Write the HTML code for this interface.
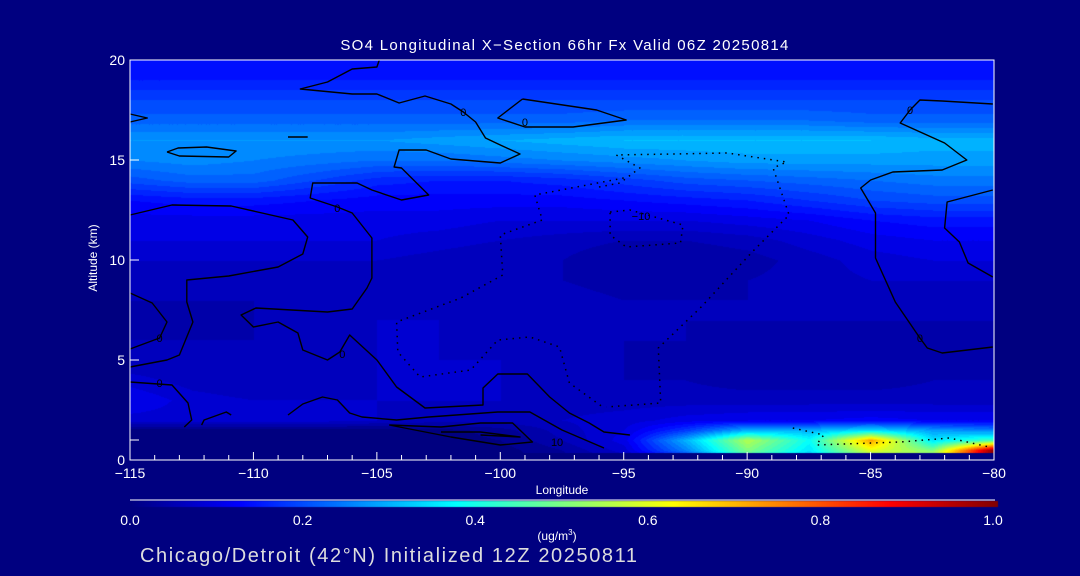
<!DOCTYPE html>
<html><head><meta charset="utf-8"><style>
html,body{margin:0;padding:0;background:#000080;}
#wrap{position:relative;width:1080px;height:576px;background:#000080;overflow:hidden;font-family:"Liberation Sans",sans-serif;color:#fff;}
canvas{position:absolute;left:0;top:0;}
svg{position:absolute;left:0;top:0;}
</style></head><body>
<div id="wrap">
<canvas id="cv" width="1080" height="576"></canvas>
<svg id="sv" width="1080" height="576"></svg>
</div>
<script>
// ---- data ----
const lons = [-115,-112.5,-110,-107.5,-105,-102.5,-100,-97.5,-95,-92.5,-90,-87.5,-85,-82.5,-80];
const alts = [0,0.5,1,1.5,2,3,4,5,6,7,8,9,10,11,12,13,14,15,16,17,18,19,20];
const field = [
[.00,.00,.00,.00,.00,.00,.00,.02,.05,.12,.40,.30,.45,.60,1.0],
[.00,.00,.00,.00,.00,.00,.00,.03,.08,.25,.50,.35,.60,.50,1.0],
[.00,.00,.00,.00,.00,.00,.01,.05,.10,.30,.55,.38,.72,.35,.45],
[.00,.00,.00,.00,.00,.00,.02,.06,.09,.18,.30,.30,.35,.28,.25],
[.08,.08,.08,.08,.07,.06,.06,.07,.08,.10,.11,.11,.12,.11,.11],
[.11,.08,.07,.07,.07,.07,.07,.06,.06,.06,.06,.06,.06,.06,.06],
[.08,.06,.05,.06,.07,.07,.07,.06,.05,.05,.04,.04,.04,.05,.05],
[.05,.05,.05,.06,.07,.07,.07,.06,.05,.04,.03,.03,.04,.04,.04],
[.05,.05,.05,.06,.07,.07,.06,.06,.05,.05,.04,.04,.04,.04,.04],
[.04,.04,.05,.06,.07,.07,.06,.06,.05,.05,.05,.05,.05,.05,.05],
[.05,.05,.05,.05,.06,.06,.06,.06,.05,.05,.05,.05,.05,.05,.05],
[.06,.06,.06,.06,.06,.06,.05,.05,.04,.04,.05,.06,.07,.07,.07],
[.07,.07,.07,.07,.07,.06,.05,.05,.03,.03,.04,.06,.08,.09,.09],
[.09,.09,.09,.09,.09,.08,.07,.06,.05,.05,.06,.08,.10,.11,.11],
[.10,.10,.10,.10,.10,.10,.09,.09,.09,.09,.10,.11,.13,.14,.14],
[.13,.14,.14,.13,.12,.12,.12,.12,.13,.14,.15,.17,.19,.20,.20],
[.20,.22,.22,.19,.16,.15,.15,.16,.18,.20,.21,.22,.23,.24,.24],
[.25,.26,.25,.24,.23,.23,.24,.25,.26,.27,.28,.28,.28,.28,.28],
[.27,.27,.27,.27,.27,.28,.29,.30,.31,.31,.31,.31,.31,.30,.30],
[.22,.22,.22,.22,.22,.22,.22,.22,.23,.23,.23,.23,.22,.22,.22],
[.19,.19,.19,.19,.19,.19,.19,.19,.19,.19,.19,.19,.19,.19,.19],
[.15,.15,.15,.15,.15,.15,.15,.15,.15,.15,.15,.15,.15,.15,.15],
[.13,.13,.13,.13,.13,.13,.13,.13,.13,.13,.13,.13,.13,.13,.13]];
const xTicks = [-115,-110,-105,-100,-95,-90,-85,-80];
const yTicks = [0,5,10,15,20];
const cbTicks = [0.0,0.2,0.4,0.6,0.8,1.0];
// contours: [lon, alt] pairs
const contourG = [[-104.9,20],[-105,19.65],[-106,19.55],[-107,18.9],[-108.1,18.55],[-106,18.3],[-105,18.3],[-104.1,17.85],[-103.05,18.2],[-102,17.8],[-101.5,17.4],[-101,16.9],[-100.6,16.1],[-100,15.75],[-99.2,15.3],[-100,14.85],[-102,15.05],[-103,15.5],[-104.1,15.5],[-104.3,14.65],[-104,14.6],[-102.9,13.25],[-104,13],[-105.2,13.5],[-105.8,13.85],[-107.6,13.85],[-107.7,13.1],[-106.6,12.65],[-106,12.35],[-105.2,11.1],[-105.2,9.1],[-105.4,8.6],[-106,7.55],[-107,7.4],[-109.9,7.6],[-110.5,7.25],[-110,6.65],[-109,6.9],[-108.2,6.35],[-108,5.5],[-107,5],[-106.5,5.4],[-106.1,6.25],[-105,5],[-104.2,3.65],[-103.05,2.6],[-100.7,2.75],[-100.7,3.6],[-100.1,4.3],[-98.9,4.3],[-98,3.15],[-97.2,2.35],[-96.4,1.85],[-95.8,1.4],[-94.75,1.25]];
const contourH = [[-99.1,18.05],[-100.1,17.1],[-99,16.65],[-97.05,16.65],[-94.9,17],[-96.1,17.5],[-99.1,18.05]];
const contourI = [[-113.5,15.4],[-113.05,15.6],[-111.9,15.65],[-110.7,15.45],[-111,15.15],[-113,15.2],[-113.5,15.4]];
const contourDash = [[-108.6,16.15],[-107.8,16.15]];
const contourSpike = [[-115,17.3],[-114.3,17.1],[-115,16.9]];
const contourA = [[-115,12.25],[-113.3,12.75],[-110.9,12.7],[-108.4,12],[-107.8,11.15],[-108,10.3],[-109,9.65],[-111,9.2],[-112.7,9],[-112.7,7.9],[-112.45,6.9],[-113,5.25],[-113.5,5],[-115,4.65]];
const contourA2 = [[-115,8.35],[-114.1,7.85],[-113.5,6.9],[-113.8,6.1],[-115,5.55]];
const contourA3 = [[-115,3.9],[-113.3,3.75],[-112.65,2.85],[-112.5,2],[-112.8,1.65]];
const contourA4 = [[-112.1,1.75],[-112,2],[-111.1,2.4],[-110.9,2.25]];
const contourB = [[-108.6,2.25],[-108,2.8],[-107.2,3.15],[-106.6,3],[-106.1,2.35],[-105.6,2.15],[-104.2,2],[-102.9,2.15],[-100.1,2.4],[-98.8,2.4],[-97.5,1.5],[-95.8,0.6]];
const contourN1 = [[-104.5,1.75],[-102.4,1.65],[-100.8,1.85],[-99.5,1.85],[-98.7,0.9],[-100,0.75],[-102,1.15],[-104.5,1.75]];
const contourN2 = [[-102.4,1.4],[-100.8,1.4],[-99.2,1.15],[-100.8,1.25]];
const contourR1 = [[-80.05,17.8],[-82.1,17.95],[-83,18],[-83.4,17.5],[-83.8,16.85],[-82,15.85],[-81.1,15],[-82.1,14.5],[-84.1,14.4],[-85,14],[-85.4,13.6],[-84.8,12.35],[-84.8,10.1],[-84,7.9],[-83,6.1],[-82.7,5.6],[-82.1,5.35],[-80.05,5.65]];
const contourR2 = [[-80.05,13.5],[-81.9,12.9],[-82,11.6],[-81.4,10.9],[-81.05,9.85],[-80.05,9.15]];
const dottedD1 = [[-96,13.65],[-95.15,13.85],[-94.35,14.6],[-95.3,15.25],[-90.8,15.35],[-88.4,14.9],[-88.95,14.6],[-88.3,12.25],[-89.8,10.4],[-91.9,7.6],[-93.6,5.6],[-93.5,2.85],[-95.7,2.65]];
const dottedD2 = [[-95,14.1],[-98.6,13.25],[-98.3,12],[-100,11.25],[-99.9,9.25],[-101.6,8.1],[-104.2,6.9],[-104.15,5.4],[-103.25,4.15],[-101.2,4.5],[-100.1,6],[-98.8,6.15],[-97.6,5.65],[-97.2,3.85],[-95.85,2.65]];
const dottedLoop = [[-95.55,12.4],[-94.75,12.5],[-92.6,11.75],[-92.7,10.85],[-94.9,10.65],[-95.55,11.25],[-95.55,12.4]];
const dottedD3 = [[-88.15,1.6],[-86.9,1.25],[-87.2,0.75],[-83.8,0.9],[-81.8,1.1],[-80.2,0.65]];
const contours = [contourG,contourH,contourI,contourDash,contourSpike,contourA,contourA2,contourA3,contourA4,contourB,contourN1,contourN2,contourR1,contourR2];
const dotted = [dottedD1,dottedD2,dottedLoop,dottedD3];
const contourLabels = [[-101.5,17.4,'0'],[-99,16.9,'0'],[-106.6,12.6,'0'],[-113.8,6.1,'0'],[-113.8,3.85,'0'],[-83.0,6.1,'0'],[-83.4,17.5,'0'],[-94.3,12.2,'−10'],[-97.7,0.9,'10'],[-106.4,5.3,'0']];

// ---- axes ----
const X0=130,X1=994,Y0=460,Y1=60;
function xs(l){return X0+(l+115)/35*(X1-X0);}
function ys(a){return Y0-a/20*(Y0-Y1);}
function lonOf(px){return -115+(px-X0)/(X1-X0)*35;}
function altOf(py){return (Y0-py)/(Y0-Y1)*20;}
function jet(v){
  v=Math.max(0,Math.min(1,v));
  const st=[[0,0,0,128],[0.125,0,0,255],[0.375,0,255,255],[0.625,255,255,0],[0.875,255,0,0],[1,128,0,0]];
  for(let i=0;i<st.length-1;i++){const a=st[i],b=st[i+1];if(v<=b[0]){const t=(v-a[0])/(b[0]-a[0]);return[a[1]+(b[1]-a[1])*t,a[2]+(b[2]-a[2])*t,a[3]+(b[3]-a[3])*t];}}
  return [128,0,0];
}
function sample(lon,alt){
  let ci=(lon-lons[0])/(lons[1]-lons[0]);ci=Math.max(0,Math.min(lons.length-1.0001,ci));
  let r=0;while(r<alts.length-2&&alt>alts[r+1])r++;
  let fy=(alt-alts[r])/(alts[r+1]-alts[r]);fy=Math.max(0,Math.min(1,fy));
  const c=Math.floor(ci),fx=ci-c;
  const a=field[r][c],b=field[r][c+1],d=field[r+1][c],e=field[r+1][c+1];
  return (a*(1-fx)+b*fx)*(1-fy)+(d*(1-fx)+e*fx)*fy;
}
const cv=document.getElementById('cv');const ctx=cv.getContext('2d');
const img=ctx.createImageData(X1-X0,Y0-Y1);
const botY=Math.round(ys(0.35));
for(let py=Y1;py<Y0;py++){for(let px=X0;px<X1;px++){
  const i=((py-Y1)*(X1-X0)+(px-X0))*4;
  let c=[0,0,128];
  if(py<botY){const v=sample(lonOf(px),altOf(py));c=jet(Math.round(v*50)/50);}
  img.data[i]=c[0];img.data[i+1]=c[1];img.data[i+2]=c[2];img.data[i+3]=255;}}
ctx.putImageData(img,X0,Y1);
// colorbar
for(let px=130;px<998;px++){const c=jet((px-130)/868);ctx.fillStyle='rgb('+c.map(Math.round).join(',')+')';ctx.fillRect(px,501,1,6);}

const NS='http://www.w3.org/2000/svg';const sv=document.getElementById('sv');
function mk(tag,at,parent){const e=document.createElementNS(NS,tag);for(const k in at)e.setAttribute(k,at[k]);(parent||sv).appendChild(e);return e;}
function pts(arr){return arr.map(p=>xs(p[0]).toFixed(1)+','+ys(p[1]).toFixed(1)).join(' ');}
contours.forEach(c=>{const e=mk('polyline',{points:pts(c),fill:'none',stroke:'#000',"stroke-width":1.4,"stroke-linejoin":"round"});

});
dotted.forEach(c=>{const e=mk('polyline',{points:pts(c),fill:'none',stroke:'#000',"stroke-width":1.5,"stroke-dasharray":"1.5 5"});

});
contourLabels.forEach(c=>{const t=mk('text',{x:xs(c[0]),y:ys(c[1])+4,"text-anchor":"middle","font-size":11,fill:'#000'});t.textContent=c[2];

});
// frame
const fr=mk('rect',{x:X0,y:Y1,width:X1-X0,height:Y0-Y1,fill:'none',stroke:'#fff',"stroke-width":1});


for(let l=-115;l<=-80;l++){const maj=(l%5===0);
  const t=mk('line',{x1:xs(l),x2:xs(l),y1:Y0,y2:Y0-(maj?8:5),stroke:'#fff'});
  
  }
xTicks.forEach(l=>{const t=mk('text',{x:xs(l),y:478,"text-anchor":"middle","font-size":14,fill:'#fff'});t.textContent=String(l).replace('-','−');
  
  });
yTicks.forEach(a=>{const t=mk('line',{x1:X0,x2:X0+9,y1:ys(a),y2:ys(a),stroke:'#fff'});
  
  
  const l=mk('text',{x:125,y:ys(a)+5,"text-anchor":"end","font-size":14,fill:'#fff'});l.textContent=a;
  
  });
const t1=mk('line',{x1:X0,x2:X0+9,y1:ys(1),y2:ys(1),stroke:'#fff'});


mk('line',{x1:130,x2:995,y1:500,y2:500,stroke:'#fff'});
cbTicks.forEach(v=>{const t=mk('text',{x:130+v*863,y:525,"text-anchor":"middle","font-size":14,fill:'#fff'});t.textContent=v.toFixed(1);
  
  });
</script>
<svg width="1080" height="576" style="position:absolute;left:0;top:0">
<text x="565" y="50" text-anchor="middle" font-size="15" letter-spacing="1.3" fill="#fff" font-family="Liberation Sans, sans-serif">SO4 Longitudinal X−Section 66hr  Fx Valid 06Z 20250814</text>
<text x="562" y="494" text-anchor="middle" font-size="12" fill="#fff" font-family="Liberation Sans, sans-serif">Longitude</text>
<text transform="translate(97,258) rotate(-90)" text-anchor="middle" font-size="12" fill="#fff" font-family="Liberation Sans, sans-serif">Altitude (km)</text>
<text x="557" y="540" text-anchor="middle" font-size="12" fill="#fff" font-family="Liberation Sans, sans-serif">(ug/m<tspan font-size="8" dy="-5">3</tspan><tspan dy="5">)</tspan></text>
<text x="140" y="562" font-size="20" letter-spacing="1.6" fill="#ddd" font-family="Liberation Sans, sans-serif">Chicago/Detroit (42°N) Initialized 12Z 20250811</text>
</svg>
</body></html>
